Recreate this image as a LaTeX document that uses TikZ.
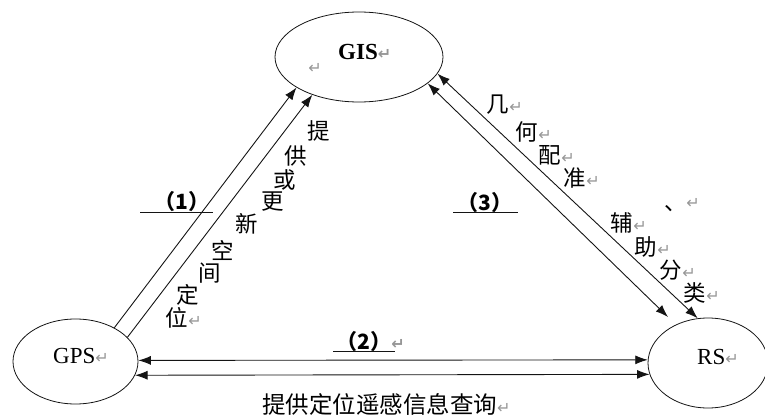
\documentclass[tikz,border=0pt]{standalone}
\usepackage{fontspec}
\setmainfont{Liberation Serif}
\newfontfamily\cjk{Noto Sans CJK SC}
\newfontfamily\symf{DejaVu Sans}
\usetikzlibrary{shapes.geometric,arrows.meta}
\definecolor{pmgray}{RGB}{150,150,150}
\definecolor{ink}{RGB}{20,20,20}
\newcommand{\pmark}{{\symf\fontsize{16}{16}\selectfont\color{pmgray}↵}}
\newcommand{\zi}[1]{#1\makebox[0pt][l]{\hspace{0pt}\pmark}}
\tikzset{
  ell/.style={ellipse, draw=ink, line width=0.8pt, inner sep=0pt},
  latin/.style={inner sep=0pt, font=\fontsize{23}{23}\selectfont},
  zh/.style={inner sep=0pt, font=\cjk\fontsize{22.5}{22.5}\selectfont},
  num/.style={inner sep=0pt, font=\cjk\bfseries\fontsize{21}{21}\selectfont},
  conn/.style={draw=ink, line width=0.9pt, {Latex[length=12.5pt,width=9pt]}-{Latex[length=12.5pt,width=9pt]}},
  conn1/.style={draw=ink, line width=0.9pt, -{Latex[length=12.5pt,width=9pt]}},
  uline/.style={draw=ink, line width=0.9pt}
}
\begin{document}
\begin{tikzpicture}[x=1pt,y=-1pt]
\useasboundingbox (0,0) rectangle (765,417);
% ellipses
\node[ell, minimum width=168pt, minimum height=90pt] (gis) at (359,57) {};
\node[ell, minimum width=125pt, minimum height=85pt] (gps) at (75.5,361.5) {};
\node[ell, minimum width=120pt, minimum height=90pt] (rs) at (708,363) {};
% texts in ellipses
\node[latin, anchor=west] (gist) at (338,52) {\bfseries GIS\pmark};
\node[inner sep=0pt] (gispm) at (315,68) {\pmark};
\node[latin, anchor=west] (gpst) at (53,356) {GPS\pmark};
\node[latin, anchor=west] (rst) at (697,357) {RS\pmark};
% connectors
\coordinate (rsin) at (668,317);
\draw[conn1] (gps.41.1) -- (gis.206.9);
\draw[conn1] (gps.25.0) -- (gis.219.6);
\draw[conn] (gis.339.1) -- (rsin);
\draw[conn] (gis.348.5) -- (rs.103.7);
\draw[conn] (gps.1.5) -- (rs.177.1);
\draw[conn] (gps.347.2) -- (rs.191.7);
% numbered labels
\node[num] (n1) at (182,202) {（1）};
\draw[uline] (140,212) -- (213,212);
\node[num] (n3) at (485,203) {（3）};
\draw[uline] (453,212) -- (518,212);
\node[num] (n2) at (364,342) {\zi{（2）}};
\draw[uline] (333,351) -- (395,351);
% left vertical text
\node[zh] (l1) at (319,131) {提};
\node[zh] (l2) at (296,156) {供};
\node[zh] (l3) at (285,180) {或};
\node[zh] (l4) at (273,202) {更};
\node[zh] (l5) at (247,224) {新};
\node[zh] (l6) at (223,250) {空};
\node[zh] (l7) at (210,273) {间};
\node[zh] (l8) at (188,295) {定};
\node[zh] (l9) at (177,318) {\zi{位}};
% right vertical text
\node[zh] (r1) at (498,105) {\zi{几}};
\node[zh] (r2) at (527,132) {\zi{何}};
\node[zh] (r3) at (550,155) {\zi{配}};
\node[zh] (r4) at (575,178) {\zi{准}};
\node[zh] (r5) at (676,209) {、};
\node[inner sep=0pt] (r5pm) at (693,203) {\pmark};
\node[zh] (r6) at (622,223) {\zi{辅}};
\node[zh] (r7) at (646,247) {\zi{助}};
\node[zh] (r8) at (671,270) {\zi{分}};
\node[zh] (r9) at (695,293) {\zi{类}};
% bottom text
\node[inner sep=0pt, anchor=west, font=\cjk\fontsize{23.5}{23.5}\selectfont] (bot) at (262,404) {提供定位遥感信息查询\pmark};
\end{tikzpicture}
\end{document}
